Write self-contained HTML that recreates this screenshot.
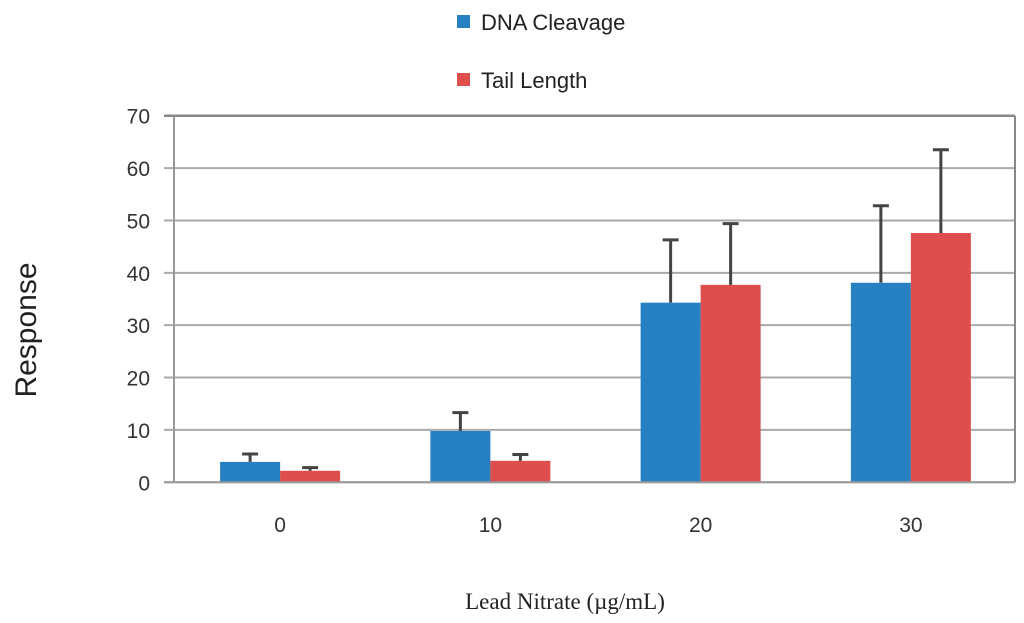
<!DOCTYPE html>
<html><head><meta charset="utf-8"><style>
body{margin:0;background:#fff;width:1024px;height:623px;overflow:hidden}
svg{display:block}
</style></head><body>
<svg id="chart" width="1024" height="623" font-family="'Liberation Sans', sans-serif">
<g>
<rect x="457" y="15" width="13" height="13" fill="#2680c2"/>
<text x="481" y="30" font-size="22" fill="#222">DNA Cleavage</text>
<rect x="457" y="73" width="13" height="13" fill="#dd4e4c"/>
<text x="481" y="88" font-size="22" fill="#222">Tail Length</text>
</g>
<text transform="translate(36,330) rotate(-90)" text-anchor="middle" font-size="30" fill="#222">Response</text>
<text x="565" y="609" text-anchor="middle" font-size="23" font-family="'Liberation Serif', serif" fill="#222">Lead Nitrate (µg/mL)</text>
<g id="grid"></g><g id="bars"></g>
</svg>
<script>
const categories = ["0","10","20","30"];
const dnaValues = [3.9, 9.8, 34.3, 38.1];
const dnaErrors = [1.5, 3.5, 12.0, 14.7];
const tailValues = [2.2, 4.1, 37.7, 47.6];
const tailErrors = [0.6, 1.2, 11.7, 15.9];
const yTicks = [0,10,20,30,40,50,60,70];

const NS="http://www.w3.org/2000/svg";
const L=174,R=1015,T=115.7,B=482.3,YMAX=70;
const y=v=>B-(v/YMAX)*(B-T);
const cw=(R-L)/categories.length;
const bw=60;
const grid=document.getElementById('grid'), bars=document.getElementById('bars');
function mk(tag,a,p){const e=document.createElementNS(NS,tag);for(const k in a)e.setAttribute(k,a[k]);p.appendChild(e);return e;}
yTicks.forEach(t=>{
  const ln=mk('line',{x1:L-10,x2:R,y1:y(t),y2:y(t),stroke:t===70?'#888':'#aaa','stroke-width':t===70?2.5:2},grid);
  
  
  const tx=mk('text',{x:150,y:y(t)+8,'text-anchor':'end','font-size':21,fill:'#333'},grid);
  tx.textContent=t;
  
  
});
const ax=mk('line',{x1:L,x2:L,y1:T,y2:B,stroke:'#999','stroke-width':2},grid);


const rx=mk('line',{x1:R,x2:R,y1:T,y2:B,stroke:'#888','stroke-width':2},grid);


function bar(x,v,err,col,name){
  const r=mk('rect',{x:x,y:y(v),width:bw,height:B-y(v),fill:col},bars);
  
  
  const cx=x+bw/2;
  const e=mk('path',{d:`M${cx},${y(v)}V${y(v+err)}M${cx-8},${y(v+err)}H${cx+8}`,stroke:'#444','stroke-width':3,fill:'none'},bars);
  
  
}
categories.forEach((c,i)=>{
  const mid=L+cw*(i+0.5)+1;
  bar(mid-bw,dnaValues[i],dnaErrors[i],'#2680c2','bar-dna-'+c);
  bar(mid,tailValues[i],tailErrors[i],'#dd4e4c','bar-tail-'+c);
  const tx=mk('text',{x:mid,y:532,'text-anchor':'middle','font-size':21,fill:'#333'},bars);
  tx.textContent=c;
  
  
});
const bx=mk('line',{x1:L-10,x2:R,y1:B,y2:B,stroke:'#999','stroke-width':2},bars);


</script>
</body></html>
